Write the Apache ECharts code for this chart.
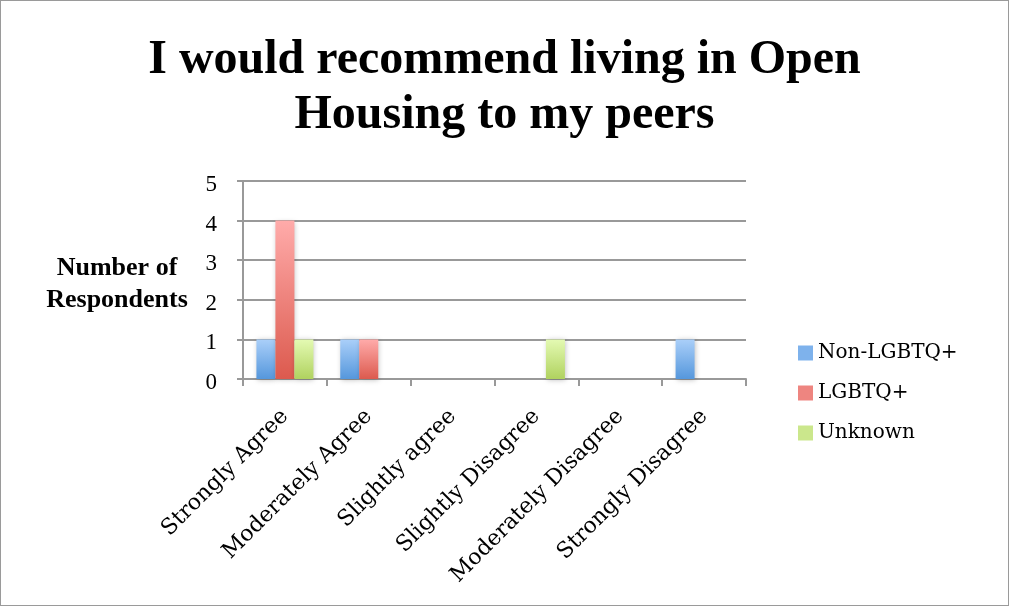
<!DOCTYPE html>
<html><head><meta charset="utf-8">
<script src="https://cdn.jsdelivr.net/npm/echarts@6/dist/echarts.min.js"></script>
<style>html,body{margin:0;padding:0;background:#fff}#c{width:1009px;height:606px;box-sizing:border-box;border:1px solid #9a9a9a}</style>
</head><body><div id="c"></div>
<script>
const titleText = 'I would recommend living in Open\nHousing to my peers';
const categories = ['Strongly Agree','Moderately Agree','Slightly agree','Slightly Disagree','Moderately Disagree','Strongly Disagree'];
const seriesNames = ['Non-LGBTQ+','LGBTQ+','Unknown'];
const nonLGBTQ = [1,1,0,0,0,1];
const lgbtq = [4,1,0,0,0,0];
const unknown = [1,0,0,1,0,0];
const yTicks = [0,1,2,3,4,5];
const yAxisTitle = 'Number of\nRespondents';

const grad = (top, bottom) => new echarts.graphic.LinearGradient(0,0,0,1,[{offset:0,color:top},{offset:1,color:bottom}]);
const colors = [grad('#aacff9','#5597dc'), grad('#ffabaa','#dc5a4e'), grad('#e4fab3','#b0d25f')];
const legendColors = ['#7eb2ec','#ee8580','#cbe78c'];
const dataSets = [nonLGBTQ, lgbtq, unknown];

const chart = echarts.init(document.getElementById('c'), null, {renderer:'canvas'});
chart.setOption({
  animation:false,
  title:{text:titleText,left:'center',top:32,padding:0,textStyle:{fontFamily:'Liberation Serif',fontWeight:'bold',fontSize:48,lineHeight:55,color:'#000'}},
  grid:{left:242,right:262,top:180,bottom:226,containLabel:false},
  legend:{orient:'vertical',left:797,top:342,padding:0,itemWidth:15,itemHeight:15,itemGap:20,icon:'rect',
    textStyle:{fontFamily:'DejaVu Serif',fontSize:20,lineHeight:20,color:'#000'},
    data:seriesNames.map((n,i)=>({name:n,itemStyle:{color:legendColors[i]}}))},
  xAxis:{type:'category',data:categories,
    axisLine:{lineStyle:{color:'#999',width:2}},
    axisTick:{show:true,length:7,lineStyle:{color:'#999',width:2},alignWithLabel:false},
    axisLabel:{rotate:45,interval:0,margin:34,fontFamily:'DejaVu Serif',fontSize:22,color:'#000'}},
  yAxis:{type:'value',min:0,max:5,interval:1,
    axisLine:{show:true,lineStyle:{color:'#999',width:2}},
    axisTick:{show:true,length:6,lineStyle:{color:'#999',width:2}},
    splitLine:{lineStyle:{color:'#999',width:2}},
    axisLabel:{margin:26,fontFamily:'Liberation Serif',fontSize:23,color:'#000',
      formatter:v=>yTicks.includes(v)?'{d|'+v+'}':'',
      rich:{d:{fontFamily:'Liberation Serif',fontSize:23,color:'#000',padding:[8,0,0,0]}}}},
  graphic:[{type:'text',style:{text:yAxisTitle,x:116,y:251,textAlign:'center',fontFamily:'Liberation Serif',fontWeight:'bold',fontSize:26,lineHeight:32,fill:'#000'}}],
  series:dataSets.map((d,i)=>({name:seriesNames[i],type:'bar',data:d,barWidth:19,barGap:'0%',
    itemStyle:{color:colors[i],shadowColor:'rgba(0,0,0,0.25)',shadowBlur:5,shadowOffsetX:1,shadowOffsetY:1}}))
});
</script></body></html>
